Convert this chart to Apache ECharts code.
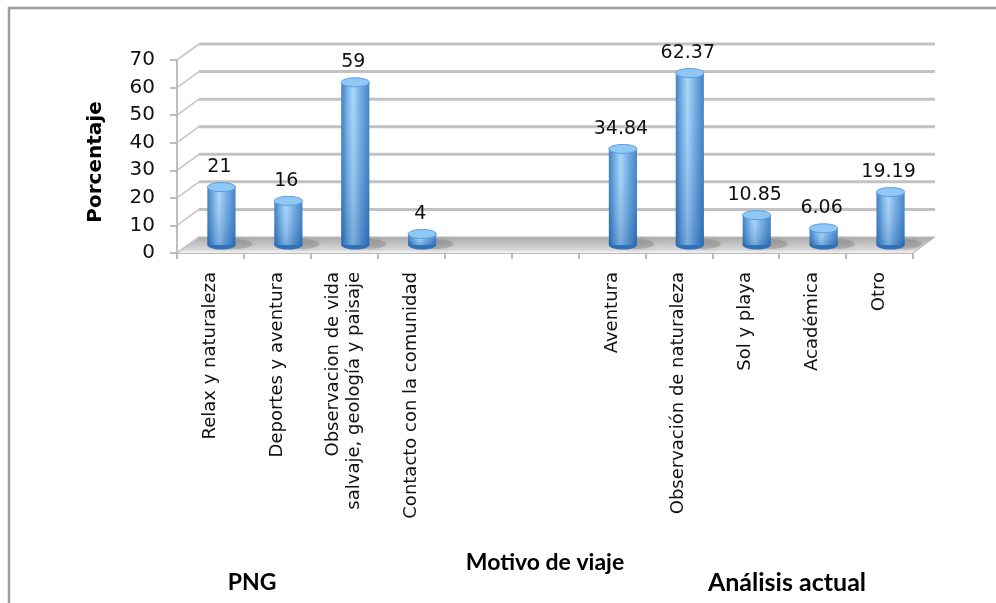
<!DOCTYPE html>
<html>
<head>
<meta charset="utf-8">
<script src="https://cdn.jsdelivr.net/npm/echarts@6/dist/echarts.min.js"></script>
<style>
  html, body { margin: 0; padding: 0; background: #fff; }
  #chart { width: 996px; height: 603px; }
</style>
</head>
<body>
<div id="chart"></div>
<script>
// Travel motives: PNG study vs. current analysis (percent)
const categories = [
  'Relax y naturaleza',
  'Deportes y aventura',
  'Observacion de vida\nsalvaje, geología y paisaje',
  'Contacto con la comunidad',
  ' ',
  '  ',
  'Aventura',
  'Observación de naturaleza',
  'Sol y playa',
  'Académica',
  'Otro'
];
const pngValues = [21, 16, 59, 4];
const actualValues = [34.84, 62.37, 10.85, 6.06, 19.19];
const gapSlots = [null, null];
const yTicks = [0, 10, 20, 30, 40, 50, 60, 70];
const groupLabels = ['PNG', 'Análisis actual'];

const values = pngValues.concat(gapSlots, actualValues);
const barData = values.map((v, i) => [i, v]);

// depth offset of the pseudo-3D back wall
const DX = 22, DY = -16;

const chart = echarts.init(document.getElementById('chart'));

function renderFloor(params, api) {
  const cs = params.coordSys;
  const x0 = cs.x, x1 = cs.x + cs.width;
  const y0 = api.coord([0, 0])[1];
  return {
    type: 'group',
    children: [
      {
        type: 'polygon',
        shape: { points: [[x0, y0], [x1, y0], [x1 + DX, y0 + DY], [x0 + DX, y0 + DY]] },
        style: {
          fill: new echarts.graphic.LinearGradient(0, 0, 0, 1, [
            { offset: 0, color: '#a8a8a8' },
            { offset: 0.6, color: '#cdcdcd' },
            { offset: 1, color: '#e8e8e8' }
          ]),
          stroke: '#bdbdbd',
          lineWidth: 1
        }
      },
      {
        type: 'line',
        shape: { x1: x0, y1: y0 - 1, x2: x1, y2: y0 - 1 },
        style: { stroke: '#f4f4f4', lineWidth: 1.5 }
      }
    ]
  };
}

function renderWall(params, api) {
  const cs = params.coordSys;
  const v = api.value(0);
  const y = api.coord([0, v])[1];
  const x0 = cs.x, x1 = cs.x + cs.width;
  return {
    type: 'group',
    children: [
      {
        type: 'line',
        shape: { x1: x0, y1: y, x2: x0 + DX, y2: y + DY },
        style: { stroke: '#c6c6c6', lineWidth: 1.6 }
      },
      v === 0 ? null : {
        type: 'line',
        shape: { x1: x0 + DX, y1: y + DY, x2: x1 + DX, y2: y + DY },
        style: { stroke: '#c2c2c2', lineWidth: 3 }
      }
    ].filter(Boolean)
  };
}

function renderBar(params, api) {
  const v = api.value(1);
  if (v == null || isNaN(v)) return;
  const idx = api.value(0);
  const top = api.coord([idx, v]);
  const base = api.coord([idx, 0]);
  const w = api.size([1, 0])[0] * 0.42;
  const cx = top[0] + DX / 2;
  const ty = top[1] + DY / 2;
  const by = base[1] + DY / 2;
  const rx = w / 2, ry = 4.5;
  const bodyFill = new echarts.graphic.LinearGradient(0, 0, 1, 0, [
    { offset: 0, color: '#2f70b6' },
    { offset: 0.25, color: '#70b3ec' },
    { offset: 0.42, color: '#a3d2f8' },
    { offset: 0.7, color: '#62a4e2' },
    { offset: 1, color: '#3176bd' }
  ]);
  const shade = new echarts.graphic.LinearGradient(0, 0, 0, 1, [
    { offset: 0, color: 'rgba(255,255,255,0.10)' },
    { offset: 1, color: 'rgba(20,70,140,0.28)' }
  ]);
  return {
    type: 'group',
    children: [
      // soft shadow on the floor
      {
        type: 'ellipse',
        shape: { cx: cx + rx * 0.9, cy: by - 1, rx: rx * 1.3, ry: 5 },
        style: { fill: 'rgba(100,100,100,0.28)', shadowBlur: 6, shadowColor: 'rgba(60,60,60,0.45)' }
      },
      {
        type: 'ellipse',
        shape: { cx: cx, cy: by, rx: rx, ry: ry },
        style: { fill: '#2f70b6' }
      },
      {
        type: 'rect',
        shape: { x: cx - rx, y: ty, width: w, height: Math.max(by - ty, 0) },
        style: { fill: bodyFill }
      },
      {
        type: 'rect',
        shape: { x: cx - rx, y: ty, width: w, height: Math.max(by - ty, 0) },
        style: { fill: shade }
      },
      {
        type: 'ellipse',
        shape: { cx: cx, cy: ty, rx: rx, ry: ry },
        style: { fill: '#8fc8f5', stroke: '#5c9de1', lineWidth: 1 }
      },
      {
        type: 'text',
        style: {
          text: String(v),
          x: cx - 2,
          y: ty - 20,
          align: 'center',
          verticalAlign: 'middle',
          fontFamily: 'DejaVu Sans',
          fontSize: 19,
          fill: '#111'
        }
      }
    ]
  };
}

chart.setOption({
  animation: false,
  backgroundColor: '#fff',
  grid: { left: 177, right: 83, top: 60, bottom: 350, containLabel: false },
  xAxis: {
    type: 'category',
    data: categories,
    boundaryGap: true,
    name: 'Motivo de viaje',
    nameLocation: 'middle',
    nameGap: 298,
    nameTextStyle: { fontFamily: 'Lato', fontWeight: 'bold', fontSize: 23, color: '#000' },
    axisLine: { show: true, lineStyle: { color: '#a8a8a8', width: 1.5 } },
    axisTick: { show: true, length: 6, lineStyle: { color: '#a8a8a8', width: 1.5 } },
    axisLabel: {
      interval: 0,
      rotate: 90,
      margin: 19,
      fontFamily: 'DejaVu Sans',
      fontSize: 18,
      lineHeight: 21,
      color: '#111'
    },
    splitLine: { show: false }
  },
  yAxis: {
    type: 'value',
    min: 0,
    max: 70,
    interval: 10,
    axisLine: { show: true, lineStyle: { color: '#a8a8a8', width: 1.5 } },
    axisTick: { show: true, length: 7, lineStyle: { color: '#a8a8a8', width: 1.5 } },
    axisLabel: { margin: 22, fontFamily: 'DejaVu Sans', fontSize: 20, color: '#111' },
    splitLine: { show: false }
  },
  series: [
    {
      type: 'custom',
      renderItem: renderFloor,
      data: [[0]],
      z: 1,
      silent: true
    },
    {
      type: 'custom',
      renderItem: renderWall,
      data: yTicks.map(t => [t]),
      encode: { y: 0 },
      z: 2,
      silent: true
    },
    {
      type: 'custom',
      renderItem: renderBar,
      data: barData,
      encode: { x: 0, y: 1 },
      z: 3
    }
  ],
  graphic: [
    {
      type: 'rect',
      shape: { x: 9, y: 8, width: 1000, height: 700 },
      style: { fill: 'none', stroke: '#9c9c9c', lineWidth: 2.5 },
      silent: true
    },
    {
      type: 'text',
      x: 96, y: 162,
      rotation: Math.PI / 2,
      style: { text: 'Porcentaje', align: 'center', verticalAlign: 'middle', fontFamily: 'DejaVu Sans', fontWeight: 'bold', fontSize: 20, fill: '#000' }
    },
    {
      type: 'text',
      x: 252, y: 583,
      style: { text: groupLabels[0], align: 'center', verticalAlign: 'middle', fontFamily: 'Lato', fontWeight: 'bold', fontSize: 23, fill: '#000' }
    },
    {
      type: 'text',
      x: 787, y: 583,
      style: { text: groupLabels[1], align: 'center', verticalAlign: 'middle', fontFamily: 'Lato', fontWeight: 'bold', fontSize: 25, fill: '#000' }
    }
  ]
});
</script>
</body>
</html>
